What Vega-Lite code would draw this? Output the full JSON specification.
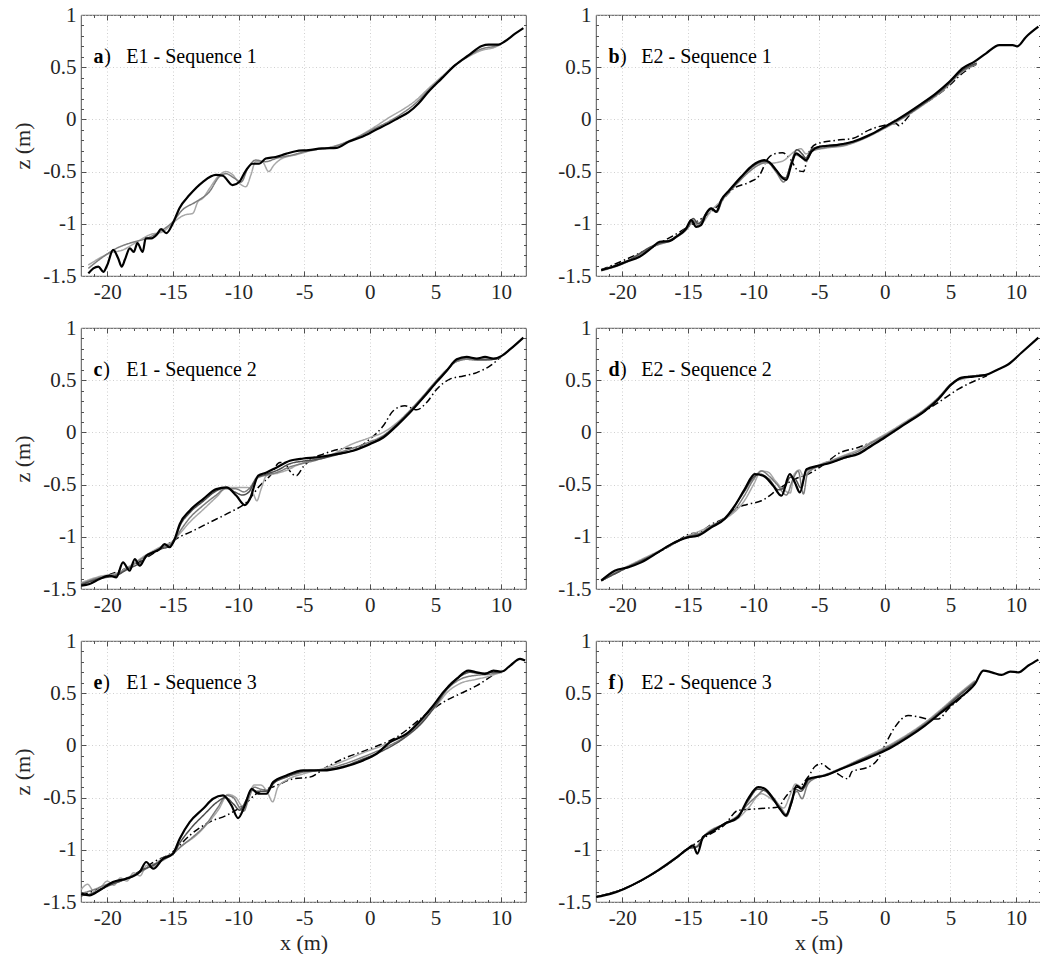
{
"$schema":"https://vega.github.io/schema/vega-lite/v6.json",
"background":"white",
"padding":{"left":11,"top":3,"right":0,"bottom":0},
"config":{
 "view":{"stroke":"#262626","strokeWidth":0.8},
 "font":"Liberation Serif",
 "style":{"guide-label":{"font":"Liberation Serif"},"guide-title":{"font":"Liberation Serif"}},
 "line":{"interpolate":"monotone"},
 "axis":{"labelFont":"Liberation Serif","labelFontSize":21,"labelColor":"#262626","labelPadding":5,"titleFont":"Liberation Serif","titleFontSize":22,"titleFontWeight":"normal","titleColor":"#262626","gridColor":"#c4c4c4","gridDash":[1,2.5],"gridWidth":0.8,"tickColor":"#262626","tickWidth":0.8,"labelFlush":false,"labelOverlap":false,"domain":false}
},
"datasets":{"prof":[
{"p":"a","s":"l","x":-21.44,"z":-1.395},{"p":"a","s":"l","x":-20.8,"z":-1.345},{"p":"a","s":"l","x":-19.8,"z":-1.28},{"p":"a","s":"l","x":-18.8,"z":-1.25},{"p":"a","s":"l","x":-17.9,"z":-1.185},{"p":"a","s":"l","x":-17.3,"z":-1.14},{"p":"a","s":"l","x":-16.76,"z":-1.105},{"p":"a","s":"l","x":-15.75,"z":-1.075},{"p":"a","s":"l","x":-14.9,"z":-0.98},{"p":"a","s":"l","x":-14.1,"z":-0.915},{"p":"a","s":"l","x":-13.48,"z":-0.9},{"p":"a","s":"l","x":-13.1,"z":-0.79},{"p":"a","s":"l","x":-12.73,"z":-0.756},{"p":"a","s":"l","x":-12.2,"z":-0.66},{"p":"a","s":"l","x":-11.47,"z":-0.535},{"p":"a","s":"l","x":-10.96,"z":-0.5},{"p":"a","s":"l","x":-10.45,"z":-0.53},{"p":"a","s":"l","x":-9.95,"z":-0.61},{"p":"a","s":"l","x":-9.44,"z":-0.645},{"p":"a","s":"l","x":-9.06,"z":-0.533},{"p":"a","s":"l","x":-8.7,"z":-0.405},{"p":"a","s":"l","x":-8.2,"z":-0.405},{"p":"a","s":"l","x":-7.7,"z":-0.5},{"p":"a","s":"l","x":-7.3,"z":-0.437},{"p":"a","s":"l","x":-6.66,"z":-0.373},{"p":"a","s":"l","x":-5.65,"z":-0.34},{"p":"a","s":"l","x":-4.5,"z":-0.3},{"p":"a","s":"l","x":-3,"z":-0.265},{"p":"a","s":"l","x":-1.5,"z":-0.2},{"p":"a","s":"l","x":0.4,"z":-0.07},{"p":"a","s":"l","x":1.45,"z":0.016},{"p":"a","s":"l","x":2.44,"z":0.089},{"p":"a","s":"l","x":3.45,"z":0.176},{"p":"a","s":"l","x":4.47,"z":0.296},{"p":"a","s":"l","x":5.48,"z":0.41},{"p":"a","s":"l","x":6.5,"z":0.52},{"p":"a","s":"l","x":7.5,"z":0.6},{"p":"a","s":"l","x":8.5,"z":0.66},{"p":"a","s":"l","x":9.5,"z":0.69},{"p":"a","s":"l","x":10,"z":0.72},
{"p":"a","s":"m","x":-21.44,"z":-1.427},{"p":"a","s":"m","x":-20.3,"z":-1.315},{"p":"a","s":"m","x":-19.3,"z":-1.235},{"p":"a","s":"m","x":-18.28,"z":-1.185},{"p":"a","s":"m","x":-17,"z":-1.14},{"p":"a","s":"m","x":-16,"z":-1.075},{"p":"a","s":"m","x":-15,"z":-0.98},{"p":"a","s":"m","x":-14.3,"z":-0.87},{"p":"a","s":"m","x":-13.25,"z":-0.79},{"p":"a","s":"m","x":-12.2,"z":-0.69},{"p":"a","s":"m","x":-11.47,"z":-0.55},{"p":"a","s":"m","x":-10.96,"z":-0.52},{"p":"a","s":"m","x":-10.3,"z":-0.565},{"p":"a","s":"m","x":-9.8,"z":-0.6},{"p":"a","s":"m","x":-9.3,"z":-0.47},{"p":"a","s":"m","x":-8.7,"z":-0.39},{"p":"a","s":"m","x":-7.93,"z":-0.405},{"p":"a","s":"m","x":-7.17,"z":-0.375},{"p":"a","s":"m","x":-5.9,"z":-0.34},{"p":"a","s":"m","x":-4.5,"z":-0.295},{"p":"a","s":"m","x":-3,"z":-0.27},{"p":"a","s":"m","x":-1.5,"z":-0.205},{"p":"a","s":"m","x":0.4,"z":-0.085},{"p":"a","s":"m","x":1.45,"z":-0.02},{"p":"a","s":"m","x":2.44,"z":0.055},{"p":"a","s":"m","x":3.45,"z":0.15},{"p":"a","s":"m","x":4.47,"z":0.28},{"p":"a","s":"m","x":5.48,"z":0.4},{"p":"a","s":"m","x":6.5,"z":0.515},{"p":"a","s":"m","x":7.5,"z":0.605},{"p":"a","s":"m","x":8.5,"z":0.675},{"p":"a","s":"m","x":9.5,"z":0.7},{"p":"a","s":"m","x":10,"z":0.72},
{"p":"a","s":"k","x":-21.44,"z":-1.475},{"p":"a","s":"k","x":-21.06,"z":-1.427},{"p":"a","s":"k","x":-20.68,"z":-1.41},{"p":"a","s":"k","x":-20.3,"z":-1.46},{"p":"a","s":"k","x":-20,"z":-1.395},{"p":"a","s":"k","x":-19.55,"z":-1.25},{"p":"a","s":"k","x":-19.17,"z":-1.33},{"p":"a","s":"k","x":-18.9,"z":-1.41},{"p":"a","s":"k","x":-18.66,"z":-1.345},{"p":"a","s":"k","x":-18.28,"z":-1.235},{"p":"a","s":"k","x":-17.98,"z":-1.27},{"p":"a","s":"k","x":-17.7,"z":-1.185},{"p":"a","s":"k","x":-17.3,"z":-1.27},{"p":"a","s":"k","x":-17.07,"z":-1.14},{"p":"a","s":"k","x":-16.64,"z":-1.14},{"p":"a","s":"k","x":-16.2,"z":-1.1},{"p":"a","s":"k","x":-15.9,"z":-1.05},{"p":"a","s":"k","x":-15.5,"z":-1.09},{"p":"a","s":"k","x":-15,"z":-0.995},{"p":"a","s":"k","x":-14.5,"z":-0.85},{"p":"a","s":"k","x":-13.74,"z":-0.725},{"p":"a","s":"k","x":-12.73,"z":-0.6},{"p":"a","s":"k","x":-11.72,"z":-0.532},{"p":"a","s":"k","x":-11.2,"z":-0.54},{"p":"a","s":"k","x":-10.45,"z":-0.63},{"p":"a","s":"k","x":-9.95,"z":-0.6},{"p":"a","s":"k","x":-9.44,"z":-0.49},{"p":"a","s":"k","x":-8.94,"z":-0.425},{"p":"a","s":"k","x":-8.43,"z":-0.425},{"p":"a","s":"k","x":-7.93,"z":-0.375},{"p":"a","s":"k","x":-7.17,"z":-0.36},{"p":"a","s":"k","x":-6.4,"z":-0.33},{"p":"a","s":"k","x":-5.65,"z":-0.305},{"p":"a","s":"k","x":-4.67,"z":-0.294},{"p":"a","s":"k","x":-3.65,"z":-0.278},{"p":"a","s":"k","x":-2.51,"z":-0.272},{"p":"a","s":"k","x":-1.62,"z":-0.214},{"p":"a","s":"k","x":-0.58,"z":-0.166},{"p":"a","s":"k","x":0.43,"z":-0.102},{"p":"a","s":"k","x":1.45,"z":-0.038},{"p":"a","s":"k","x":2.21,"z":0.016},{"p":"a","s":"k","x":2.94,"z":0.067},{"p":"a","s":"k","x":3.71,"z":0.153},{"p":"a","s":"k","x":4.47,"z":0.265},{"p":"a","s":"k","x":5.48,"z":0.393},{"p":"a","s":"k","x":6.5,"z":0.52},{"p":"a","s":"k","x":7.51,"z":0.613},{"p":"a","s":"k","x":8.53,"z":0.703},{"p":"a","s":"k","x":9.04,"z":0.716},{"p":"a","s":"k","x":9.8,"z":0.716},{"p":"a","s":"k","x":10.3,"z":0.748},{"p":"a","s":"k","x":11.07,"z":0.821},{"p":"a","s":"k","x":11.7,"z":0.875},

{"p":"b","s":"d","x":-21.6,"z":-1.44},{"p":"b","s":"d","x":-18,"z":-1.24},{"p":"b","s":"d","x":-15,"z":-1.03},{"p":"b","s":"d","x":-13,"z":-0.86},{"p":"b","s":"d","x":-11.5,"z":-0.66},{"p":"b","s":"d","x":-10.3,"z":-0.6},{"p":"b","s":"d","x":-9.54,"z":-0.534},{"p":"b","s":"d","x":-8.9,"z":-0.374},{"p":"b","s":"d","x":-8.27,"z":-0.326},{"p":"b","s":"d","x":-7.8,"z":-0.32},{"p":"b","s":"d","x":-7.2,"z":-0.38},{"p":"b","s":"d","x":-6.6,"z":-0.49},{"p":"b","s":"d","x":-6.2,"z":-0.5},{"p":"b","s":"d","x":-5.8,"z":-0.32},{"p":"b","s":"d","x":-5.2,"z":-0.235},{"p":"b","s":"d","x":-3.7,"z":-0.2},{"p":"b","s":"d","x":-2.4,"z":-0.18},{"p":"b","s":"d","x":-1.17,"z":-0.1},{"p":"b","s":"d","x":0,"z":-0.055},{"p":"b","s":"d","x":0.84,"z":-0.04},{"p":"b","s":"d","x":1.1,"z":-0.06},{"p":"b","s":"d","x":1.4,"z":-0.03},{"p":"b","s":"d","x":2.1,"z":0.073},{"p":"b","s":"d","x":3.5,"z":0.19},{"p":"b","s":"d","x":4.6,"z":0.29},{"p":"b","s":"d","x":6.1,"z":0.46},{"p":"b","s":"d","x":7,"z":0.53},
{"p":"b","s":"l","x":-21.6,"z":-1.44},{"p":"b","s":"l","x":-19.7,"z":-1.36},{"p":"b","s":"l","x":-17.66,"z":-1.215},{"p":"b","s":"l","x":-16,"z":-1.135},{"p":"b","s":"l","x":-15,"z":-1.03},{"p":"b","s":"l","x":-14.5,"z":-0.98},{"p":"b","s":"l","x":-14,"z":-0.99},{"p":"b","s":"l","x":-13.2,"z":-0.87},{"p":"b","s":"l","x":-12.4,"z":-0.77},{"p":"b","s":"l","x":-11.5,"z":-0.64},{"p":"b","s":"l","x":-10.5,"z":-0.5},{"p":"b","s":"l","x":-9.5,"z":-0.42},{"p":"b","s":"l","x":-8.8,"z":-0.42},{"p":"b","s":"l","x":-7.8,"z":-0.4},{"p":"b","s":"l","x":-6.9,"z":-0.31},{"p":"b","s":"l","x":-6.4,"z":-0.28},{"p":"b","s":"l","x":-6,"z":-0.33},{"p":"b","s":"l","x":-5.5,"z":-0.3},{"p":"b","s":"l","x":-4.5,"z":-0.275},{"p":"b","s":"l","x":-3,"z":-0.25},{"p":"b","s":"l","x":-1.5,"z":-0.18},{"p":"b","s":"l","x":0,"z":-0.085},{"p":"b","s":"l","x":1.5,"z":0.02},{"p":"b","s":"l","x":3,"z":0.145},{"p":"b","s":"l","x":4.5,"z":0.285},{"p":"b","s":"l","x":5.9,"z":0.455},{"p":"b","s":"l","x":7,"z":0.53},
{"p":"b","s":"m","x":-21.6,"z":-1.45},{"p":"b","s":"m","x":-19.7,"z":-1.37},{"p":"b","s":"m","x":-17.66,"z":-1.22},{"p":"b","s":"m","x":-16,"z":-1.14},{"p":"b","s":"m","x":-15,"z":-1.04},{"p":"b","s":"m","x":-14.6,"z":-0.97},{"p":"b","s":"m","x":-14.2,"z":-1.02},{"p":"b","s":"m","x":-13.6,"z":-0.91},{"p":"b","s":"m","x":-13.2,"z":-0.85},{"p":"b","s":"m","x":-12.8,"z":-0.89},{"p":"b","s":"m","x":-12.4,"z":-0.78},{"p":"b","s":"m","x":-11.5,"z":-0.65},{"p":"b","s":"m","x":-10.5,"z":-0.52},{"p":"b","s":"m","x":-9.5,"z":-0.43},{"p":"b","s":"m","x":-9,"z":-0.41},{"p":"b","s":"m","x":-8.3,"z":-0.5},{"p":"b","s":"m","x":-7.7,"z":-0.6},{"p":"b","s":"m","x":-7.2,"z":-0.45},{"p":"b","s":"m","x":-6.8,"z":-0.34},{"p":"b","s":"m","x":-6.3,"z":-0.37},{"p":"b","s":"m","x":-6,"z":-0.4},{"p":"b","s":"m","x":-5.5,"z":-0.3},{"p":"b","s":"m","x":-4.5,"z":-0.27},{"p":"b","s":"m","x":-3,"z":-0.245},{"p":"b","s":"m","x":-1.5,"z":-0.175},{"p":"b","s":"m","x":0,"z":-0.08},{"p":"b","s":"m","x":1.5,"z":0.025},{"p":"b","s":"m","x":3,"z":0.15},{"p":"b","s":"m","x":4.5,"z":0.29},{"p":"b","s":"m","x":5.9,"z":0.46},{"p":"b","s":"m","x":7,"z":0.53},
{"p":"b","s":"g","x":-21.6,"z":-1.44},{"p":"b","s":"g","x":-19.7,"z":-1.36},{"p":"b","s":"g","x":-17.66,"z":-1.21},{"p":"b","s":"g","x":-16,"z":-1.13},{"p":"b","s":"g","x":-15,"z":-1.02},{"p":"b","s":"g","x":-14.6,"z":-0.95},{"p":"b","s":"g","x":-14.2,"z":-1.0},{"p":"b","s":"g","x":-13.6,"z":-0.9},{"p":"b","s":"g","x":-13.2,"z":-0.86},{"p":"b","s":"g","x":-12.8,"z":-0.88},{"p":"b","s":"g","x":-12.4,"z":-0.77},{"p":"b","s":"g","x":-11.5,"z":-0.64},{"p":"b","s":"g","x":-10.5,"z":-0.5},{"p":"b","s":"g","x":-9.5,"z":-0.41},{"p":"b","s":"g","x":-9,"z":-0.4},{"p":"b","s":"g","x":-8.4,"z":-0.47},{"p":"b","s":"g","x":-7.8,"z":-0.55},{"p":"b","s":"g","x":-7.55,"z":-0.56},{"p":"b","s":"g","x":-7.1,"z":-0.4},{"p":"b","s":"g","x":-6.7,"z":-0.29},{"p":"b","s":"g","x":-6.3,"z":-0.33},{"p":"b","s":"g","x":-6,"z":-0.37},{"p":"b","s":"g","x":-5.6,"z":-0.29},{"p":"b","s":"g","x":-5,"z":-0.26},{"p":"b","s":"g","x":-3.5,"z":-0.24},{"p":"b","s":"g","x":-2,"z":-0.2},{"p":"b","s":"g","x":0,"z":-0.075},{"p":"b","s":"g","x":1.5,"z":0.03},{"p":"b","s":"g","x":3,"z":0.155},{"p":"b","s":"g","x":4.5,"z":0.3},{"p":"b","s":"g","x":5.9,"z":0.47},{"p":"b","s":"g","x":7,"z":0.54},
{"p":"b","s":"k","x":-21.6,"z":-1.444},{"p":"b","s":"k","x":-20.7,"z":-1.412},{"p":"b","s":"k","x":-19.7,"z":-1.364},{"p":"b","s":"k","x":-18.68,"z":-1.316},{"p":"b","s":"k","x":-17.66,"z":-1.22},{"p":"b","s":"k","x":-17.16,"z":-1.172},{"p":"b","s":"k","x":-16.4,"z":-1.166},{"p":"b","s":"k","x":-15.9,"z":-1.125},{"p":"b","s":"k","x":-15.13,"z":-1.045},{"p":"b","s":"k","x":-14.75,"z":-0.965},{"p":"b","s":"k","x":-14.37,"z":-1.03},{"p":"b","s":"k","x":-14,"z":-1.013},{"p":"b","s":"k","x":-13.6,"z":-0.9},{"p":"b","s":"k","x":-13.22,"z":-0.853},{"p":"b","s":"k","x":-12.84,"z":-0.885},{"p":"b","s":"k","x":-12.46,"z":-0.773},{"p":"b","s":"k","x":-11.83,"z":-0.677},{"p":"b","s":"k","x":-10.94,"z":-0.55},{"p":"b","s":"k","x":-10.05,"z":-0.438},{"p":"b","s":"k","x":-9.16,"z":-0.39},{"p":"b","s":"k","x":-8.78,"z":-0.412},{"p":"b","s":"k","x":-8.27,"z":-0.486},{"p":"b","s":"k","x":-7.77,"z":-0.565},{"p":"b","s":"k","x":-7.5,"z":-0.58},{"p":"b","s":"k","x":-7.13,"z":-0.438},{"p":"b","s":"k","x":-6.75,"z":-0.326},{"p":"b","s":"k","x":-6.37,"z":-0.358},{"p":"b","s":"k","x":-5.99,"z":-0.39},{"p":"b","s":"k","x":-5.6,"z":-0.31},{"p":"b","s":"k","x":-4.97,"z":-0.262},{"p":"b","s":"k","x":-3.7,"z":-0.246},{"p":"b","s":"k","x":-2.44,"z":-0.214},{"p":"b","s":"k","x":-1.17,"z":-0.15},{"p":"b","s":"k","x":0,"z":-0.07},{"p":"b","s":"k","x":1.1,"z":0.01},{"p":"b","s":"k","x":2.64,"z":0.137},{"p":"b","s":"k","x":3.9,"z":0.25},{"p":"b","s":"k","x":4.92,"z":0.36},{"p":"b","s":"k","x":5.94,"z":0.49},{"p":"b","s":"k","x":6.83,"z":0.553},{"p":"b","s":"k","x":7.72,"z":0.633},{"p":"b","s":"k","x":8.73,"z":0.712},{"p":"b","s":"k","x":9.75,"z":0.712},{"p":"b","s":"k","x":10.1,"z":0.7},{"p":"b","s":"k","x":10.76,"z":0.79},{"p":"b","s":"k","x":11.7,"z":0.888},

{"p":"c","s":"d","x":-21.98,"z":-1.45},{"p":"c","s":"d","x":-20,"z":-1.37},{"p":"c","s":"d","x":-18,"z":-1.27},{"p":"c","s":"d","x":-16,"z":-1.12},{"p":"c","s":"d","x":-15,"z":-1.04},{"p":"c","s":"d","x":-14.48,"z":-1.0},{"p":"c","s":"d","x":-13.72,"z":-0.958},{"p":"c","s":"d","x":-12.2,"z":-0.862},{"p":"c","s":"d","x":-10.67,"z":-0.766},{"p":"c","s":"d","x":-9.4,"z":-0.67},{"p":"c","s":"d","x":-8.38,"z":-0.511},{"p":"c","s":"d","x":-7.6,"z":-0.415},{"p":"c","s":"d","x":-6.85,"z":-0.288},{"p":"c","s":"d","x":-6.47,"z":-0.288},{"p":"c","s":"d","x":-6.2,"z":-0.35},{"p":"c","s":"d","x":-5.6,"z":-0.415},{"p":"c","s":"d","x":-5.07,"z":-0.33},{"p":"c","s":"d","x":-4.5,"z":-0.26},{"p":"c","s":"d","x":-3.55,"z":-0.208},{"p":"c","s":"d","x":-2.28,"z":-0.16},{"p":"c","s":"d","x":-1,"z":-0.144},{"p":"c","s":"d","x":0,"z":-0.065},{"p":"c","s":"d","x":1.03,"z":0.063},{"p":"c","s":"d","x":1.79,"z":0.207},{"p":"c","s":"d","x":2.68,"z":0.255},{"p":"c","s":"d","x":3.57,"z":0.216},{"p":"c","s":"d","x":4.33,"z":0.286},{"p":"c","s":"d","x":5.1,"z":0.414},{"p":"c","s":"d","x":6.1,"z":0.51},{"p":"c","s":"d","x":7.13,"z":0.54},{"p":"c","s":"d","x":8.15,"z":0.573},{"p":"c","s":"d","x":9.16,"z":0.637},{"p":"c","s":"d","x":9.93,"z":0.717},
{"p":"c","s":"l","x":-21.98,"z":-1.44},{"p":"c","s":"l","x":-20.58,"z":-1.38},{"p":"c","s":"l","x":-19.31,"z":-1.35},{"p":"c","s":"l","x":-18.3,"z":-1.28},{"p":"c","s":"l","x":-17,"z":-1.17},{"p":"c","s":"l","x":-16,"z":-1.1},{"p":"c","s":"l","x":-15,"z":-1.04},{"p":"c","s":"l","x":-14.48,"z":-0.97},{"p":"c","s":"l","x":-13.72,"z":-0.86},{"p":"c","s":"l","x":-12.7,"z":-0.74},{"p":"c","s":"l","x":-11.69,"z":-0.62},{"p":"c","s":"l","x":-10.9,"z":-0.53},{"p":"c","s":"l","x":-10.2,"z":-0.527},{"p":"c","s":"l","x":-9.3,"z":-0.527},{"p":"c","s":"l","x":-8.9,"z":-0.58},{"p":"c","s":"l","x":-8.6,"z":-0.655},{"p":"c","s":"l","x":-8.3,"z":-0.55},{"p":"c","s":"l","x":-7.87,"z":-0.415},{"p":"c","s":"l","x":-7,"z":-0.39},{"p":"c","s":"l","x":-6.09,"z":-0.35},{"p":"c","s":"l","x":-5.5,"z":-0.31},{"p":"c","s":"l","x":-4.5,"z":-0.27},{"p":"c","s":"l","x":-3,"z":-0.22},{"p":"c","s":"l","x":-1.5,"z":-0.12},{"p":"c","s":"l","x":0,"z":-0.05},{"p":"c","s":"l","x":1.03,"z":0.0},{"p":"c","s":"l","x":2.04,"z":0.09},{"p":"c","s":"l","x":3.06,"z":0.21},{"p":"c","s":"l","x":4.08,"z":0.35},{"p":"c","s":"l","x":5.1,"z":0.5},{"p":"c","s":"l","x":5.86,"z":0.6},{"p":"c","s":"l","x":6.62,"z":0.68},{"p":"c","s":"l","x":7.38,"z":0.7},{"p":"c","s":"l","x":8.5,"z":0.69},{"p":"c","s":"l","x":9.4,"z":0.7},{"p":"c","s":"l","x":10,"z":0.72},
{"p":"c","s":"m","x":-21.98,"z":-1.45},{"p":"c","s":"m","x":-20.58,"z":-1.39},{"p":"c","s":"m","x":-19.31,"z":-1.36},{"p":"c","s":"m","x":-18.3,"z":-1.29},{"p":"c","s":"m","x":-17,"z":-1.18},{"p":"c","s":"m","x":-16,"z":-1.11},{"p":"c","s":"m","x":-15,"z":-1.05},{"p":"c","s":"m","x":-14.48,"z":-0.95},{"p":"c","s":"m","x":-13.72,"z":-0.82},{"p":"c","s":"m","x":-12.7,"z":-0.7},{"p":"c","s":"m","x":-11.69,"z":-0.6},{"p":"c","s":"m","x":-11,"z":-0.54},{"p":"c","s":"m","x":-10.2,"z":-0.54},{"p":"c","s":"m","x":-9.6,"z":-0.57},{"p":"c","s":"m","x":-9.2,"z":-0.54},{"p":"c","s":"m","x":-8.6,"z":-0.44},{"p":"c","s":"m","x":-7.9,"z":-0.41},{"p":"c","s":"m","x":-7,"z":-0.38},{"p":"c","s":"m","x":-6.09,"z":-0.33},{"p":"c","s":"m","x":-5.2,"z":-0.3},{"p":"c","s":"m","x":-4.06,"z":-0.265},{"p":"c","s":"m","x":-2.53,"z":-0.2},{"p":"c","s":"m","x":-1.26,"z":-0.15},{"p":"c","s":"m","x":0,"z":-0.09},{"p":"c","s":"m","x":1.03,"z":-0.03},{"p":"c","s":"m","x":2.04,"z":0.08},{"p":"c","s":"m","x":3.06,"z":0.21},{"p":"c","s":"m","x":4.08,"z":0.35},{"p":"c","s":"m","x":5.1,"z":0.5},{"p":"c","s":"m","x":5.86,"z":0.6},{"p":"c","s":"m","x":6.62,"z":0.68},{"p":"c","s":"m","x":7.38,"z":0.7},{"p":"c","s":"m","x":8.5,"z":0.69},{"p":"c","s":"m","x":9.4,"z":0.7},{"p":"c","s":"m","x":10,"z":0.72},
{"p":"c","s":"g","x":-21.98,"z":-1.46},{"p":"c","s":"g","x":-20.58,"z":-1.4},{"p":"c","s":"g","x":-19.31,"z":-1.37},{"p":"c","s":"g","x":-18.3,"z":-1.3},{"p":"c","s":"g","x":-17.5,"z":-1.25},{"p":"c","s":"g","x":-17,"z":-1.19},{"p":"c","s":"g","x":-16,"z":-1.12},{"p":"c","s":"g","x":-15.25,"z":-1.09},{"p":"c","s":"g","x":-14.86,"z":-1.03},{"p":"c","s":"g","x":-14.48,"z":-0.9},{"p":"c","s":"g","x":-13.72,"z":-0.77},{"p":"c","s":"g","x":-12.7,"z":-0.66},{"p":"c","s":"g","x":-11.69,"z":-0.56},{"p":"c","s":"g","x":-10.92,"z":-0.53},{"p":"c","s":"g","x":-10.3,"z":-0.57},{"p":"c","s":"g","x":-9.7,"z":-0.6},{"p":"c","s":"g","x":-9.2,"z":-0.57},{"p":"c","s":"g","x":-8.6,"z":-0.43},{"p":"c","s":"g","x":-7.9,"z":-0.4},{"p":"c","s":"g","x":-7,"z":-0.36},{"p":"c","s":"g","x":-6.09,"z":-0.3},{"p":"c","s":"g","x":-5.07,"z":-0.275},{"p":"c","s":"g","x":-4.06,"z":-0.26},{"p":"c","s":"g","x":-2.53,"z":-0.215},{"p":"c","s":"g","x":-1.26,"z":-0.17},{"p":"c","s":"g","x":0,"z":-0.105},{"p":"c","s":"g","x":1.03,"z":-0.04},{"p":"c","s":"g","x":2.04,"z":0.07},{"p":"c","s":"g","x":3.06,"z":0.2},{"p":"c","s":"g","x":4.08,"z":0.34},{"p":"c","s":"g","x":5.1,"z":0.49},{"p":"c","s":"g","x":5.86,"z":0.59},{"p":"c","s":"g","x":6.62,"z":0.69},{"p":"c","s":"g","x":7.38,"z":0.715},{"p":"c","s":"g","x":8.5,"z":0.7},{"p":"c","s":"g","x":9.4,"z":0.7},{"p":"c","s":"g","x":10,"z":0.72},
{"p":"c","s":"k","x":-21.98,"z":-1.468},{"p":"c","s":"k","x":-21.35,"z":-1.452},{"p":"c","s":"k","x":-20.58,"z":-1.404},{"p":"c","s":"k","x":-19.82,"z":-1.372},{"p":"c","s":"k","x":-19.31,"z":-1.388},{"p":"c","s":"k","x":-18.8,"z":-1.245},{"p":"c","s":"k","x":-18.3,"z":-1.325},{"p":"c","s":"k","x":-17.9,"z":-1.213},{"p":"c","s":"k","x":-17.53,"z":-1.277},{"p":"c","s":"k","x":-17.03,"z":-1.181},{"p":"c","s":"k","x":-16.5,"z":-1.149},{"p":"c","s":"k","x":-16,"z":-1.117},{"p":"c","s":"k","x":-15.63,"z":-1.07},{"p":"c","s":"k","x":-15.25,"z":-1.1},{"p":"c","s":"k","x":-14.86,"z":-1.02},{"p":"c","s":"k","x":-14.48,"z":-0.878},{"p":"c","s":"k","x":-13.72,"z":-0.75},{"p":"c","s":"k","x":-12.7,"z":-0.64},{"p":"c","s":"k","x":-11.69,"z":-0.543},{"p":"c","s":"k","x":-10.92,"z":-0.527},{"p":"c","s":"k","x":-10.16,"z":-0.607},{"p":"c","s":"k","x":-9.52,"z":-0.696},{"p":"c","s":"k","x":-9.14,"z":-0.639},{"p":"c","s":"k","x":-8.5,"z":-0.415},{"p":"c","s":"k","x":-7.87,"z":-0.384},{"p":"c","s":"k","x":-7.1,"z":-0.336},{"p":"c","s":"k","x":-6.09,"z":-0.272},{"p":"c","s":"k","x":-5.07,"z":-0.25},{"p":"c","s":"k","x":-4.06,"z":-0.24},{"p":"c","s":"k","x":-2.53,"z":-0.208},{"p":"c","s":"k","x":-1.26,"z":-0.176},{"p":"c","s":"k","x":0,"z":-0.113},{"p":"c","s":"k","x":1.03,"z":-0.049},{"p":"c","s":"k","x":2.04,"z":0.063},{"p":"c","s":"k","x":3.06,"z":0.19},{"p":"c","s":"k","x":4.08,"z":0.334},{"p":"c","s":"k","x":5.1,"z":0.484},{"p":"c","s":"k","x":5.86,"z":0.59},{"p":"c","s":"k","x":6.62,"z":0.7},{"p":"c","s":"k","x":7.38,"z":0.723},{"p":"c","s":"k","x":8.15,"z":0.707},{"p":"c","s":"k","x":8.78,"z":0.723},{"p":"c","s":"k","x":9.42,"z":0.707},{"p":"c","s":"k","x":10.05,"z":0.733},{"p":"c","s":"k","x":10.7,"z":0.797},{"p":"c","s":"k","x":11.7,"z":0.908},

{"p":"d","s":"d","x":-21.6,"z":-1.42},{"p":"d","s":"d","x":-19.57,"z":-1.29},{"p":"d","s":"d","x":-17.28,"z":-1.15},{"p":"d","s":"d","x":-16,"z":-1.06},{"p":"d","s":"d","x":-15,"z":-0.98},{"p":"d","s":"d","x":-14,"z":-0.95},{"p":"d","s":"d","x":-13.2,"z":-0.88},{"p":"d","s":"d","x":-12.2,"z":-0.82},{"p":"d","s":"d","x":-11.43,"z":-0.734},{"p":"d","s":"d","x":-10.5,"z":-0.69},{"p":"d","s":"d","x":-9.4,"z":-0.655},{"p":"d","s":"d","x":-8.1,"z":-0.543},{"p":"d","s":"d","x":-6.85,"z":-0.447},{"p":"d","s":"d","x":-5.83,"z":-0.4},{"p":"d","s":"d","x":-4.57,"z":-0.3},{"p":"d","s":"d","x":-3.5,"z":-0.2},{"p":"d","s":"d","x":-2.02,"z":-0.144},{"p":"d","s":"d","x":0,"z":-0.033},{"p":"d","s":"d","x":2.04,"z":0.127},{"p":"d","s":"d","x":4.08,"z":0.286},{"p":"d","s":"d","x":5.6,"z":0.414},{"p":"d","s":"d","x":7.77,"z":0.541},
{"p":"d","s":"l","x":-21.6,"z":-1.41},{"p":"d","s":"l","x":-19.57,"z":-1.28},{"p":"d","s":"l","x":-17.28,"z":-1.14},{"p":"d","s":"l","x":-16,"z":-1.06},{"p":"d","s":"l","x":-15,"z":-0.99},{"p":"d","s":"l","x":-14,"z":-0.94},{"p":"d","s":"l","x":-13.2,"z":-0.89},{"p":"d","s":"l","x":-12.2,"z":-0.83},{"p":"d","s":"l","x":-11.43,"z":-0.76},{"p":"d","s":"l","x":-10.67,"z":-0.65},{"p":"d","s":"l","x":-10,"z":-0.5},{"p":"d","s":"l","x":-9.4,"z":-0.37},{"p":"d","s":"l","x":-8.9,"z":-0.38},{"p":"d","s":"l","x":-8.3,"z":-0.47},{"p":"d","s":"l","x":-7.7,"z":-0.55},{"p":"d","s":"l","x":-7.2,"z":-0.58},{"p":"d","s":"l","x":-6.9,"z":-0.4},{"p":"d","s":"l","x":-6.5,"z":-0.36},{"p":"d","s":"l","x":-6.2,"z":-0.42},{"p":"d","s":"l","x":-5.8,"z":-0.37},{"p":"d","s":"l","x":-5,"z":-0.31},{"p":"d","s":"l","x":-4,"z":-0.265},{"p":"d","s":"l","x":-3,"z":-0.215},{"p":"d","s":"l","x":-2,"z":-0.165},{"p":"d","s":"l","x":-1,"z":-0.09},{"p":"d","s":"l","x":0,"z":-0.02},{"p":"d","s":"l","x":1.54,"z":0.1},{"p":"d","s":"l","x":3.06,"z":0.225},{"p":"d","s":"l","x":4.08,"z":0.335},{"p":"d","s":"l","x":5.1,"z":0.47},{"p":"d","s":"l","x":6.2,"z":0.52},{"p":"d","s":"l","x":7.7,"z":0.55},
{"p":"d","s":"m","x":-21.6,"z":-1.42},{"p":"d","s":"m","x":-19.57,"z":-1.29},{"p":"d","s":"m","x":-17.28,"z":-1.145},{"p":"d","s":"m","x":-16,"z":-1.06},{"p":"d","s":"m","x":-15,"z":-1.0},{"p":"d","s":"m","x":-14,"z":-0.96},{"p":"d","s":"m","x":-13.2,"z":-0.9},{"p":"d","s":"m","x":-12.2,"z":-0.82},{"p":"d","s":"m","x":-11.43,"z":-0.74},{"p":"d","s":"m","x":-10.67,"z":-0.6},{"p":"d","s":"m","x":-10,"z":-0.45},{"p":"d","s":"m","x":-9.4,"z":-0.37},{"p":"d","s":"m","x":-8.8,"z":-0.42},{"p":"d","s":"m","x":-8.2,"z":-0.5},{"p":"d","s":"m","x":-7.5,"z":-0.6},{"p":"d","s":"m","x":-7,"z":-0.45},{"p":"d","s":"m","x":-6.6,"z":-0.37},{"p":"d","s":"m","x":-6.2,"z":-0.59},{"p":"d","s":"m","x":-5.9,"z":-0.4},{"p":"d","s":"m","x":-5,"z":-0.32},{"p":"d","s":"m","x":-4,"z":-0.27},{"p":"d","s":"m","x":-3,"z":-0.225},{"p":"d","s":"m","x":-2,"z":-0.18},{"p":"d","s":"m","x":-1,"z":-0.1},{"p":"d","s":"m","x":0,"z":-0.03},{"p":"d","s":"m","x":1.54,"z":0.09},{"p":"d","s":"m","x":3.06,"z":0.22},{"p":"d","s":"m","x":4.08,"z":0.33},{"p":"d","s":"m","x":5.1,"z":0.47},{"p":"d","s":"m","x":6.2,"z":0.53},{"p":"d","s":"m","x":7.7,"z":0.55},
{"p":"d","s":"g","x":-21.6,"z":-1.42},{"p":"d","s":"g","x":-19.57,"z":-1.29},{"p":"d","s":"g","x":-17.28,"z":-1.15},{"p":"d","s":"g","x":-16.26,"z":-1.07},{"p":"d","s":"g","x":-15,"z":-1.0},{"p":"d","s":"g","x":-14,"z":-0.97},{"p":"d","s":"g","x":-13.2,"z":-0.9},{"p":"d","s":"g","x":-12.2,"z":-0.82},{"p":"d","s":"g","x":-11.43,"z":-0.7},{"p":"d","s":"g","x":-10.67,"z":-0.56},{"p":"d","s":"g","x":-10,"z":-0.43},{"p":"d","s":"g","x":-9.5,"z":-0.4},{"p":"d","s":"g","x":-8.8,"z":-0.45},{"p":"d","s":"g","x":-8.1,"z":-0.55},{"p":"d","s":"g","x":-7.6,"z":-0.52},{"p":"d","s":"g","x":-7.2,"z":-0.43},{"p":"d","s":"g","x":-6.8,"z":-0.45},{"p":"d","s":"g","x":-6.4,"z":-0.53},{"p":"d","s":"g","x":-6,"z":-0.37},{"p":"d","s":"g","x":-5.07,"z":-0.325},{"p":"d","s":"g","x":-4.06,"z":-0.285},{"p":"d","s":"g","x":-3.04,"z":-0.245},{"p":"d","s":"g","x":-2.02,"z":-0.2},{"p":"d","s":"g","x":-1,"z":-0.12},{"p":"d","s":"g","x":0,"z":-0.04},{"p":"d","s":"g","x":1.54,"z":0.085},{"p":"d","s":"g","x":3.06,"z":0.215},{"p":"d","s":"g","x":4.08,"z":0.325},{"p":"d","s":"g","x":5.1,"z":0.465},{"p":"d","s":"g","x":6.2,"z":0.53},{"p":"d","s":"g","x":7.7,"z":0.55},
{"p":"d","s":"k","x":-21.6,"z":-1.42},{"p":"d","s":"k","x":-20.58,"z":-1.325},{"p":"d","s":"k","x":-19.57,"z":-1.293},{"p":"d","s":"k","x":-18.55,"z":-1.245},{"p":"d","s":"k","x":-17.28,"z":-1.149},{"p":"d","s":"k","x":-16.26,"z":-1.07},{"p":"d","s":"k","x":-15,"z":-1.006},{"p":"d","s":"k","x":-14.23,"z":-0.99},{"p":"d","s":"k","x":-13.21,"z":-0.91},{"p":"d","s":"k","x":-12.2,"z":-0.83},{"p":"d","s":"k","x":-11.43,"z":-0.703},{"p":"d","s":"k","x":-10.67,"z":-0.543},{"p":"d","s":"k","x":-9.9,"z":-0.4},{"p":"d","s":"k","x":-9.27,"z":-0.415},{"p":"d","s":"k","x":-8.5,"z":-0.511},{"p":"d","s":"k","x":-7.87,"z":-0.607},{"p":"d","s":"k","x":-7.24,"z":-0.4},{"p":"d","s":"k","x":-6.85,"z":-0.479},{"p":"d","s":"k","x":-6.47,"z":-0.575},{"p":"d","s":"k","x":-5.96,"z":-0.352},{"p":"d","s":"k","x":-5.07,"z":-0.32},{"p":"d","s":"k","x":-4.06,"z":-0.288},{"p":"d","s":"k","x":-3.04,"z":-0.24},{"p":"d","s":"k","x":-2.02,"z":-0.208},{"p":"d","s":"k","x":-1,"z":-0.128},{"p":"d","s":"k","x":0,"z":-0.049},{"p":"d","s":"k","x":1.54,"z":0.079},{"p":"d","s":"k","x":3.06,"z":0.207},{"p":"d","s":"k","x":4.08,"z":0.318},{"p":"d","s":"k","x":5.1,"z":0.462},{"p":"d","s":"k","x":5.86,"z":0.525},{"p":"d","s":"k","x":6.75,"z":0.535},{"p":"d","s":"k","x":7.64,"z":0.548},{"p":"d","s":"k","x":8.66,"z":0.605},{"p":"d","s":"k","x":9.42,"z":0.653},{"p":"d","s":"k","x":10.43,"z":0.765},{"p":"d","s":"k","x":11.7,"z":0.908},

{"p":"e","s":"d","x":-21.98,"z":-1.44},{"p":"e","s":"d","x":-20,"z":-1.34},{"p":"e","s":"d","x":-18,"z":-1.24},{"p":"e","s":"d","x":-16.5,"z":-1.12},{"p":"e","s":"d","x":-15,"z":-1.02},{"p":"e","s":"d","x":-13.72,"z":-0.862},{"p":"e","s":"d","x":-12.2,"z":-0.734},{"p":"e","s":"d","x":-10.92,"z":-0.67},{"p":"e","s":"d","x":-9.65,"z":-0.575},{"p":"e","s":"d","x":-8.63,"z":-0.463},{"p":"e","s":"d","x":-7.1,"z":-0.384},{"p":"e","s":"d","x":-5.83,"z":-0.32},{"p":"e","s":"d","x":-4.57,"z":-0.304},{"p":"e","s":"d","x":-3.3,"z":-0.208},{"p":"e","s":"d","x":-2.02,"z":-0.128},{"p":"e","s":"d","x":0,"z":-0.033},{"p":"e","s":"d","x":2.04,"z":0.079},{"p":"e","s":"d","x":4.33,"z":0.302},{"p":"e","s":"d","x":5.6,"z":0.414},{"p":"e","s":"d","x":6.87,"z":0.494},{"p":"e","s":"d","x":8.15,"z":0.573},{"p":"e","s":"d","x":9.67,"z":0.7},
{"p":"e","s":"l","x":-21.98,"z":-1.38},{"p":"e","s":"l","x":-21.5,"z":-1.33},{"p":"e","s":"l","x":-21,"z":-1.4},{"p":"e","s":"l","x":-20.5,"z":-1.36},{"p":"e","s":"l","x":-20,"z":-1.3},{"p":"e","s":"l","x":-19.5,"z":-1.34},{"p":"e","s":"l","x":-19,"z":-1.27},{"p":"e","s":"l","x":-18.5,"z":-1.3},{"p":"e","s":"l","x":-18,"z":-1.22},{"p":"e","s":"l","x":-17.5,"z":-1.25},{"p":"e","s":"l","x":-17,"z":-1.15},{"p":"e","s":"l","x":-16.5,"z":-1.16},{"p":"e","s":"l","x":-16,"z":-1.1},{"p":"e","s":"l","x":-15,"z":-1.03},{"p":"e","s":"l","x":-14.2,"z":-0.95},{"p":"e","s":"l","x":-13.3,"z":-0.87},{"p":"e","s":"l","x":-12.3,"z":-0.74},{"p":"e","s":"l","x":-11.5,"z":-0.61},{"p":"e","s":"l","x":-10.8,"z":-0.47},{"p":"e","s":"l","x":-10.2,"z":-0.5},{"p":"e","s":"l","x":-9.7,"z":-0.58},{"p":"e","s":"l","x":-9.3,"z":-0.5},{"p":"e","s":"l","x":-8.8,"z":-0.38},{"p":"e","s":"l","x":-8.3,"z":-0.38},{"p":"e","s":"l","x":-7.8,"z":-0.45},{"p":"e","s":"l","x":-7.4,"z":-0.54},{"p":"e","s":"l","x":-7,"z":-0.4},{"p":"e","s":"l","x":-6.3,"z":-0.33},{"p":"e","s":"l","x":-5,"z":-0.27},{"p":"e","s":"l","x":-3.5,"z":-0.22},{"p":"e","s":"l","x":-2,"z":-0.15},{"p":"e","s":"l","x":-0.5,"z":-0.07},{"p":"e","s":"l","x":1,"z":0.0},{"p":"e","s":"l","x":2.5,"z":0.09},{"p":"e","s":"l","x":4,"z":0.24},{"p":"e","s":"l","x":5,"z":0.37},{"p":"e","s":"l","x":6,"z":0.52},{"p":"e","s":"l","x":7,"z":0.6},{"p":"e","s":"l","x":8,"z":0.63},{"p":"e","s":"l","x":9,"z":0.66},{"p":"e","s":"l","x":10,"z":0.7},
{"p":"e","s":"m","x":-21.98,"z":-1.42},{"p":"e","s":"m","x":-21,"z":-1.38},{"p":"e","s":"m","x":-20,"z":-1.33},{"p":"e","s":"m","x":-19,"z":-1.3},{"p":"e","s":"m","x":-18,"z":-1.24},{"p":"e","s":"m","x":-17.3,"z":-1.2},{"p":"e","s":"m","x":-16.5,"z":-1.14},{"p":"e","s":"m","x":-15.75,"z":-1.1},{"p":"e","s":"m","x":-15,"z":-1.04},{"p":"e","s":"m","x":-14.3,"z":-0.96},{"p":"e","s":"m","x":-13.5,"z":-0.88},{"p":"e","s":"m","x":-12.5,"z":-0.76},{"p":"e","s":"m","x":-11.6,"z":-0.6},{"p":"e","s":"m","x":-10.9,"z":-0.48},{"p":"e","s":"m","x":-10.4,"z":-0.5},{"p":"e","s":"m","x":-9.9,"z":-0.6},{"p":"e","s":"m","x":-9.6,"z":-0.63},{"p":"e","s":"m","x":-9.2,"z":-0.5},{"p":"e","s":"m","x":-8.8,"z":-0.4},{"p":"e","s":"m","x":-8.3,"z":-0.42},{"p":"e","s":"m","x":-7.8,"z":-0.43},{"p":"e","s":"m","x":-7.3,"z":-0.36},{"p":"e","s":"m","x":-6.3,"z":-0.3},{"p":"e","s":"m","x":-5,"z":-0.255},{"p":"e","s":"m","x":-3.5,"z":-0.23},{"p":"e","s":"m","x":-2,"z":-0.18},{"p":"e","s":"m","x":-0.5,"z":-0.11},{"p":"e","s":"m","x":1,"z":-0.03},{"p":"e","s":"m","x":2.5,"z":0.07},{"p":"e","s":"m","x":4,"z":0.23},{"p":"e","s":"m","x":5,"z":0.38},{"p":"e","s":"m","x":6,"z":0.55},{"p":"e","s":"m","x":7,"z":0.64},{"p":"e","s":"m","x":8,"z":0.67},{"p":"e","s":"m","x":9,"z":0.68},{"p":"e","s":"m","x":10,"z":0.7},
{"p":"e","s":"g","x":-21.98,"z":-1.44},{"p":"e","s":"g","x":-21,"z":-1.41},{"p":"e","s":"g","x":-20,"z":-1.35},{"p":"e","s":"g","x":-19,"z":-1.3},{"p":"e","s":"g","x":-18,"z":-1.25},{"p":"e","s":"g","x":-17.3,"z":-1.19},{"p":"e","s":"g","x":-16.5,"z":-1.15},{"p":"e","s":"g","x":-15.75,"z":-1.09},{"p":"e","s":"g","x":-15,"z":-1.04},{"p":"e","s":"g","x":-14.4,"z":-0.92},{"p":"e","s":"g","x":-13.6,"z":-0.79},{"p":"e","s":"g","x":-12.6,"z":-0.66},{"p":"e","s":"g","x":-11.6,"z":-0.54},{"p":"e","s":"g","x":-11,"z":-0.5},{"p":"e","s":"g","x":-10.4,"z":-0.56},{"p":"e","s":"g","x":-9.9,"z":-0.62},{"p":"e","s":"g","x":-9.4,"z":-0.52},{"p":"e","s":"g","x":-9,"z":-0.43},{"p":"e","s":"g","x":-8.5,"z":-0.44},{"p":"e","s":"g","x":-7.9,"z":-0.44},{"p":"e","s":"g","x":-7.4,"z":-0.37},{"p":"e","s":"g","x":-6.3,"z":-0.3},{"p":"e","s":"g","x":-5,"z":-0.245},{"p":"e","s":"g","x":-3.5,"z":-0.235},{"p":"e","s":"g","x":-2,"z":-0.2},{"p":"e","s":"g","x":-0.5,"z":-0.13},{"p":"e","s":"g","x":1,"z":-0.05},{"p":"e","s":"g","x":2.5,"z":0.06},{"p":"e","s":"g","x":4,"z":0.22},{"p":"e","s":"g","x":5,"z":0.38},{"p":"e","s":"g","x":6,"z":0.57},{"p":"e","s":"g","x":7,"z":0.67},{"p":"e","s":"g","x":7.6,"z":0.7},{"p":"e","s":"g","x":8.5,"z":0.69},{"p":"e","s":"g","x":9.4,"z":0.7},{"p":"e","s":"g","x":10,"z":0.7},
{"p":"e","s":"k","x":-21.98,"z":-1.42},{"p":"e","s":"k","x":-21.35,"z":-1.436},{"p":"e","s":"k","x":-20.58,"z":-1.388},{"p":"e","s":"k","x":-19.57,"z":-1.309},{"p":"e","s":"k","x":-18.55,"z":-1.277},{"p":"e","s":"k","x":-17.53,"z":-1.213},{"p":"e","s":"k","x":-17.03,"z":-1.117},{"p":"e","s":"k","x":-16.5,"z":-1.181},{"p":"e","s":"k","x":-15.75,"z":-1.085},{"p":"e","s":"k","x":-15,"z":-1.037},{"p":"e","s":"k","x":-14.48,"z":-0.894},{"p":"e","s":"k","x":-13.72,"z":-0.735},{"p":"e","s":"k","x":-12.7,"z":-0.607},{"p":"e","s":"k","x":-11.94,"z":-0.511},{"p":"e","s":"k","x":-11.18,"z":-0.479},{"p":"e","s":"k","x":-10.54,"z":-0.575},{"p":"e","s":"k","x":-10.03,"z":-0.696},{"p":"e","s":"k","x":-9.52,"z":-0.575},{"p":"e","s":"k","x":-9,"z":-0.415},{"p":"e","s":"k","x":-8.5,"z":-0.463},{"p":"e","s":"k","x":-7.87,"z":-0.463},{"p":"e","s":"k","x":-7.36,"z":-0.352},{"p":"e","s":"k","x":-6.35,"z":-0.288},{"p":"e","s":"k","x":-5.07,"z":-0.24},{"p":"e","s":"k","x":-3.55,"z":-0.24},{"p":"e","s":"k","x":-2.02,"z":-0.208},{"p":"e","s":"k","x":-0.5,"z":-0.144},{"p":"e","s":"k","x":0.52,"z":-0.08},{"p":"e","s":"k","x":1.54,"z":0.031},{"p":"e","s":"k","x":2.8,"z":0.11},{"p":"e","s":"k","x":4.08,"z":0.27},{"p":"e","s":"k","x":4.84,"z":0.382},{"p":"e","s":"k","x":5.6,"z":0.51},{"p":"e","s":"k","x":6.62,"z":0.637},{"p":"e","s":"k","x":7.51,"z":0.717},{"p":"e","s":"k","x":8.15,"z":0.7},{"p":"e","s":"k","x":8.78,"z":0.685},{"p":"e","s":"k","x":9.42,"z":0.717},{"p":"e","s":"k","x":10.05,"z":0.707},{"p":"e","s":"k","x":10.7,"z":0.765},{"p":"e","s":"k","x":11.45,"z":0.829},{"p":"e","s":"k","x":11.83,"z":0.813},

{"p":"f","s":"d","x":-21.98,"z":-1.45},{"p":"f","s":"d","x":-19.82,"z":-1.37},{"p":"f","s":"d","x":-17.28,"z":-1.2},{"p":"f","s":"d","x":-16,"z":-1.09},{"p":"f","s":"d","x":-15,"z":-0.99},{"p":"f","s":"d","x":-13.85,"z":-0.89},{"p":"f","s":"d","x":-12.2,"z":-0.76},{"p":"f","s":"d","x":-11.18,"z":-0.623},{"p":"f","s":"d","x":-9.65,"z":-0.607},{"p":"f","s":"d","x":-8.12,"z":-0.59},{"p":"f","s":"d","x":-7.6,"z":-0.5},{"p":"f","s":"d","x":-7,"z":-0.42},{"p":"f","s":"d","x":-6.35,"z":-0.38},{"p":"f","s":"d","x":-5.83,"z":-0.3},{"p":"f","s":"d","x":-5.3,"z":-0.2},{"p":"f","s":"d","x":-4.82,"z":-0.176},{"p":"f","s":"d","x":-4.3,"z":-0.22},{"p":"f","s":"d","x":-3.6,"z":-0.27},{"p":"f","s":"d","x":-3.1,"z":-0.31},{"p":"f","s":"d","x":-2.79,"z":-0.32},{"p":"f","s":"d","x":-2.5,"z":-0.25},{"p":"f","s":"d","x":-2.28,"z":-0.24},{"p":"f","s":"d","x":-1.26,"z":-0.208},{"p":"f","s":"d","x":-0.5,"z":-0.128},{"p":"f","s":"d","x":0,"z":-0.001},{"p":"f","s":"d","x":0.77,"z":0.175},{"p":"f","s":"d","x":1.79,"z":0.286},{"p":"f","s":"d","x":2.68,"z":0.27},{"p":"f","s":"d","x":3.31,"z":0.254},{"p":"f","s":"d","x":4.08,"z":0.254},{"p":"f","s":"d","x":4.84,"z":0.35},{"p":"f","s":"d","x":5.86,"z":0.462},{"p":"f","s":"d","x":6.87,"z":0.59},
{"p":"f","s":"l","x":-21.98,"z":-1.45},{"p":"f","s":"l","x":-19.82,"z":-1.37},{"p":"f","s":"l","x":-17.28,"z":-1.2},{"p":"f","s":"l","x":-16,"z":-1.09},{"p":"f","s":"l","x":-15,"z":-0.99},{"p":"f","s":"l","x":-14.3,"z":-0.96},{"p":"f","s":"l","x":-13.85,"z":-0.88},{"p":"f","s":"l","x":-12.2,"z":-0.75},{"p":"f","s":"l","x":-11.18,"z":-0.7},{"p":"f","s":"l","x":-10.4,"z":-0.6},{"p":"f","s":"l","x":-9.4,"z":-0.463},{"p":"f","s":"l","x":-8.8,"z":-0.5},{"p":"f","s":"l","x":-8.2,"z":-0.56},{"p":"f","s":"l","x":-7.7,"z":-0.6},{"p":"f","s":"l","x":-7.2,"z":-0.47},{"p":"f","s":"l","x":-6.8,"z":-0.37},{"p":"f","s":"l","x":-6.3,"z":-0.4},{"p":"f","s":"l","x":-5.9,"z":-0.36},{"p":"f","s":"l","x":-5.4,"z":-0.31},{"p":"f","s":"l","x":-4.57,"z":-0.28},{"p":"f","s":"l","x":-3.3,"z":-0.215},{"p":"f","s":"l","x":-2.02,"z":-0.14},{"p":"f","s":"l","x":-0.5,"z":-0.05},{"p":"f","s":"l","x":0.52,"z":0.015},{"p":"f","s":"l","x":1.79,"z":0.11},{"p":"f","s":"l","x":3.06,"z":0.22},{"p":"f","s":"l","x":4.33,"z":0.35},{"p":"f","s":"l","x":5.6,"z":0.49},{"p":"f","s":"l","x":6.87,"z":0.62},
{"p":"f","s":"m","x":-21.98,"z":-1.45},{"p":"f","s":"m","x":-19.82,"z":-1.37},{"p":"f","s":"m","x":-17.28,"z":-1.2},{"p":"f","s":"m","x":-16,"z":-1.09},{"p":"f","s":"m","x":-15,"z":-0.99},{"p":"f","s":"m","x":-14.3,"z":-0.97},{"p":"f","s":"m","x":-13.85,"z":-0.89},{"p":"f","s":"m","x":-12.2,"z":-0.75},{"p":"f","s":"m","x":-11.18,"z":-0.67},{"p":"f","s":"m","x":-10.4,"z":-0.56},{"p":"f","s":"m","x":-9.7,"z":-0.48},{"p":"f","s":"m","x":-9.2,"z":-0.43},{"p":"f","s":"m","x":-8.5,"z":-0.5},{"p":"f","s":"m","x":-7.9,"z":-0.6},{"p":"f","s":"m","x":-7.5,"z":-0.66},{"p":"f","s":"m","x":-7.1,"z":-0.52},{"p":"f","s":"m","x":-6.7,"z":-0.44},{"p":"f","s":"m","x":-6.3,"z":-0.51},{"p":"f","s":"m","x":-5.9,"z":-0.38},{"p":"f","s":"m","x":-5.4,"z":-0.32},{"p":"f","s":"m","x":-4.57,"z":-0.285},{"p":"f","s":"m","x":-3.3,"z":-0.22},{"p":"f","s":"m","x":-2.02,"z":-0.145},{"p":"f","s":"m","x":-0.5,"z":-0.06},{"p":"f","s":"m","x":0.52,"z":0.005},{"p":"f","s":"m","x":1.79,"z":0.1},{"p":"f","s":"m","x":3.06,"z":0.21},{"p":"f","s":"m","x":4.33,"z":0.34},{"p":"f","s":"m","x":5.6,"z":0.48},{"p":"f","s":"m","x":6.87,"z":0.61},
{"p":"f","s":"g","x":-21.98,"z":-1.45},{"p":"f","s":"g","x":-19.82,"z":-1.37},{"p":"f","s":"g","x":-17.28,"z":-1.2},{"p":"f","s":"g","x":-16,"z":-1.09},{"p":"f","s":"g","x":-15,"z":-0.99},{"p":"f","s":"g","x":-14.3,"z":-0.97},{"p":"f","s":"g","x":-13.85,"z":-0.89},{"p":"f","s":"g","x":-12.2,"z":-0.75},{"p":"f","s":"g","x":-11.18,"z":-0.68},{"p":"f","s":"g","x":-10.4,"z":-0.53},{"p":"f","s":"g","x":-9.7,"z":-0.42},{"p":"f","s":"g","x":-9.2,"z":-0.43},{"p":"f","s":"g","x":-8.5,"z":-0.52},{"p":"f","s":"g","x":-7.9,"z":-0.62},{"p":"f","s":"g","x":-7.5,"z":-0.68},{"p":"f","s":"g","x":-7.1,"z":-0.55},{"p":"f","s":"g","x":-6.8,"z":-0.42},{"p":"f","s":"g","x":-6.4,"z":-0.44},{"p":"f","s":"g","x":-6.1,"z":-0.4},{"p":"f","s":"g","x":-5.8,"z":-0.33},{"p":"f","s":"g","x":-4.57,"z":-0.29},{"p":"f","s":"g","x":-3.3,"z":-0.225},{"p":"f","s":"g","x":-2.02,"z":-0.15},{"p":"f","s":"g","x":-0.5,"z":-0.07},{"p":"f","s":"g","x":0.52,"z":-0.005},{"p":"f","s":"g","x":1.79,"z":0.09},{"p":"f","s":"g","x":3.06,"z":0.2},{"p":"f","s":"g","x":4.33,"z":0.33},{"p":"f","s":"g","x":5.6,"z":0.47},{"p":"f","s":"g","x":6.87,"z":0.6},
{"p":"f","s":"k","x":-21.98,"z":-1.452},{"p":"f","s":"k","x":-20.84,"z":-1.42},{"p":"f","s":"k","x":-19.82,"z":-1.372},{"p":"f","s":"k","x":-18.55,"z":-1.293},{"p":"f","s":"k","x":-17.28,"z":-1.197},{"p":"f","s":"k","x":-16,"z":-1.085},{"p":"f","s":"k","x":-15,"z":-0.99},{"p":"f","s":"k","x":-14.6,"z":-0.958},{"p":"f","s":"k","x":-14.28,"z":-1.037},{"p":"f","s":"k","x":-13.85,"z":-0.878},{"p":"f","s":"k","x":-13.2,"z":-0.83},{"p":"f","s":"k","x":-12.2,"z":-0.75},{"p":"f","s":"k","x":-11.18,"z":-0.687},{"p":"f","s":"k","x":-10.41,"z":-0.511},{"p":"f","s":"k","x":-9.65,"z":-0.4},{"p":"f","s":"k","x":-9.14,"z":-0.415},{"p":"f","s":"k","x":-8.5,"z":-0.511},{"p":"f","s":"k","x":-8,"z":-0.607},{"p":"f","s":"k","x":-7.54,"z":-0.671},{"p":"f","s":"k","x":-7.1,"z":-0.543},{"p":"f","s":"k","x":-6.73,"z":-0.384},{"p":"f","s":"k","x":-6.35,"z":-0.415},{"p":"f","s":"k","x":-5.83,"z":-0.32},{"p":"f","s":"k","x":-4.57,"z":-0.288},{"p":"f","s":"k","x":-3.3,"z":-0.224},{"p":"f","s":"k","x":-2.02,"z":-0.16},{"p":"f","s":"k","x":-0.5,"z":-0.08},{"p":"f","s":"k","x":0.52,"z":-0.017},{"p":"f","s":"k","x":1.79,"z":0.079},{"p":"f","s":"k","x":3.06,"z":0.19},{"p":"f","s":"k","x":4.33,"z":0.318},{"p":"f","s":"k","x":5.6,"z":0.446},{"p":"f","s":"k","x":6.87,"z":0.59},{"p":"f","s":"k","x":7.51,"z":0.717},{"p":"f","s":"k","x":8.15,"z":0.7},{"p":"f","s":"k","x":8.9,"z":0.675},{"p":"f","s":"k","x":9.55,"z":0.707},{"p":"f","s":"k","x":10.18,"z":0.7},{"p":"f","s":"k","x":10.94,"z":0.765},{"p":"f","s":"k","x":11.7,"z":0.822}
]},
"columns":2,
"bounds":"flush",
"spacing":{"row":52,"column":70},
"concat":[
{"width":445,"height":261,"resolve":{"axis":{"x":"independent","y":"independent"}},"layer":[
 {"data":{"values":[{}]},"mark":{"type":"point","opacity":0},"encoding":{"x":{"datum":0,"type":"quantitative","scale":{"domain":[-22,11.9],"nice":false,"zero":false},"axis":{"orient":"bottom","values":[-21,-20,-19,-18,-17,-16,-15,-14,-13,-12,-11,-10,-9,-8,-7,-6,-5,-4,-3,-2,-1,0,1,2,3,4,5,6,7,8,9,10,11],"labels":false,"grid":false,"title":null,"tickSize":{"condition":{"test":"datum.value % 5 === 0","value":-5},"value":-2.5}}},"y":{"datum":0,"type":"quantitative","scale":{"domain":[-1.5,1],"nice":false,"zero":false},"axis":{"orient":"left","values":[-1.4,-1.3,-1.2,-1.1,-1,-0.9,-0.8,-0.7,-0.6,-0.5,-0.4,-0.3,-0.2,-0.1,0,0.1,0.2,0.3,0.4,0.5,0.6,0.7,0.8,0.9],"labels":false,"grid":false,"title":null,"tickSize":{"condition":{"test":"abs(datum.value*2-round(datum.value*2))<0.01","value":-5},"value":-2.5}}}}},
 {"data":{"values":[{}]},"mark":{"type":"point","opacity":0},"encoding":{"x":{"datum":0,"type":"quantitative","scale":{"domain":[-22,11.9],"nice":false,"zero":false},"axis":{"orient":"top","values":[-21,-20,-19,-18,-17,-16,-15,-14,-13,-12,-11,-10,-9,-8,-7,-6,-5,-4,-3,-2,-1,0,1,2,3,4,5,6,7,8,9,10,11],"labels":false,"grid":false,"title":null,"tickSize":{"condition":{"test":"datum.value % 5 === 0","value":-5},"value":-2.5}}},"y":{"datum":0,"type":"quantitative","scale":{"domain":[-1.5,1],"nice":false,"zero":false},"axis":{"orient":"right","values":[-1.4,-1.3,-1.2,-1.1,-1,-0.9,-0.8,-0.7,-0.6,-0.5,-0.4,-0.3,-0.2,-0.1,0,0.1,0.2,0.3,0.4,0.5,0.6,0.7,0.8,0.9],"labels":false,"grid":false,"title":null,"tickSize":{"condition":{"test":"abs(datum.value*2-round(datum.value*2))<0.01","value":-5},"value":-2.5}}}}},
 {"data":{"name":"prof"},"transform":[{"filter":"datum.p==='a' && datum.s!=='k'"}],"mark":{"type":"line","clip":true,"strokeWidth":1.5,"strokeJoin":"round","interpolate":"monotone"},"encoding":{"x":{"field":"x","type":"quantitative","scale":{"domain":[-22,11.9],"nice":false,"zero":false},"axis":{"orient":"bottom","values":[-20,-15,-10,-5,0,5,10],"ticks":false,"grid":true,"labelExpr":"''+datum.value","labelFont":"Liberation Serif","title":null}},"y":{"field":"z","type":"quantitative","scale":{"domain":[-1.5,1],"nice":false,"zero":false},"axis":{"orient":"left","values":[-1.5,-1,-0.5,0,0.5,1],"ticks":false,"grid":true,"labelExpr":"''+datum.value","labelFont":"Liberation Serif","titleFont":"Liberation Serif","title":"z (m)","titlePadding":8}},"color":{"field":"s","type":"nominal","scale":{"domain":["d","l","m","g"],"range":["#000000","#a8a8a8","#7c7c7c","#4d4d4d"]},"legend":null},"strokeDash":{"field":"s","type":"nominal","scale":{"domain":["d","l","m","g"],"range":[[7,3,1.5,3],[1,0],[1,0],[1,0]]},"legend":null}}},
 {"data":{"name":"prof"},"transform":[{"filter":"datum.p==='a' && datum.s==='k'"}],"mark":{"type":"line","clip":true,"strokeWidth":2.2,"color":"#000000","strokeJoin":"round","interpolate":"monotone"},"encoding":{"x":{"field":"x","type":"quantitative","scale":{"domain":[-22,11.9],"nice":false,"zero":false},"axis":null},"y":{"field":"z","type":"quantitative","scale":{"domain":[-1.5,1],"nice":false,"zero":false},"axis":null}}},
 {"data":{"values":[{}]},"mark":{"type":"text","text":"a","font":"Liberation Serif","fontSize":20,"fontWeight":"bold","align":"left","baseline":"alphabetic","color":"#000000"},"encoding":{"x":{"datum":-21.05,"type":"quantitative","scale":{"domain":[-22,11.9],"nice":false,"zero":false},"axis":null},"y":{"datum":0.545,"type":"quantitative","scale":{"domain":[-1.5,1],"nice":false,"zero":false},"axis":null}}},
 {"data":{"values":[{}]},"mark":{"type":"text","text":")","font":"Liberation Serif","fontSize":20,"align":"left","baseline":"alphabetic","color":"#000000"},"encoding":{"x":{"datum":-20.22,"type":"quantitative","scale":{"domain":[-22,11.9],"nice":false,"zero":false},"axis":null},"y":{"datum":0.545,"type":"quantitative","scale":{"domain":[-1.5,1],"nice":false,"zero":false},"axis":null}}},
 {"data":{"values":[{}]},"mark":{"type":"text","text":"E1 - Sequence 1","font":"Liberation Serif","fontSize":20,"align":"left","baseline":"alphabetic","color":"#000000"},"encoding":{"x":{"datum":-18.55,"type":"quantitative","scale":{"domain":[-22,11.9],"nice":false,"zero":false},"axis":null},"y":{"datum":0.545,"type":"quantitative","scale":{"domain":[-1.5,1],"nice":false,"zero":false},"axis":null}}}
]},
{"width":445,"height":261,"resolve":{"axis":{"x":"independent","y":"independent"}},"layer":[
 {"data":{"values":[{}]},"mark":{"type":"point","opacity":0},"encoding":{"x":{"datum":0,"type":"quantitative","scale":{"domain":[-22,11.9],"nice":false,"zero":false},"axis":{"orient":"bottom","values":[-21,-20,-19,-18,-17,-16,-15,-14,-13,-12,-11,-10,-9,-8,-7,-6,-5,-4,-3,-2,-1,0,1,2,3,4,5,6,7,8,9,10,11],"labels":false,"grid":false,"title":null,"tickSize":{"condition":{"test":"datum.value % 5 === 0","value":-5},"value":-2.5}}},"y":{"datum":0,"type":"quantitative","scale":{"domain":[-1.5,1],"nice":false,"zero":false},"axis":{"orient":"left","values":[-1.4,-1.3,-1.2,-1.1,-1,-0.9,-0.8,-0.7,-0.6,-0.5,-0.4,-0.3,-0.2,-0.1,0,0.1,0.2,0.3,0.4,0.5,0.6,0.7,0.8,0.9],"labels":false,"grid":false,"title":null,"tickSize":{"condition":{"test":"abs(datum.value*2-round(datum.value*2))<0.01","value":-5},"value":-2.5}}}}},
 {"data":{"values":[{}]},"mark":{"type":"point","opacity":0},"encoding":{"x":{"datum":0,"type":"quantitative","scale":{"domain":[-22,11.9],"nice":false,"zero":false},"axis":{"orient":"top","values":[-21,-20,-19,-18,-17,-16,-15,-14,-13,-12,-11,-10,-9,-8,-7,-6,-5,-4,-3,-2,-1,0,1,2,3,4,5,6,7,8,9,10,11],"labels":false,"grid":false,"title":null,"tickSize":{"condition":{"test":"datum.value % 5 === 0","value":-5},"value":-2.5}}},"y":{"datum":0,"type":"quantitative","scale":{"domain":[-1.5,1],"nice":false,"zero":false},"axis":{"orient":"right","values":[-1.4,-1.3,-1.2,-1.1,-1,-0.9,-0.8,-0.7,-0.6,-0.5,-0.4,-0.3,-0.2,-0.1,0,0.1,0.2,0.3,0.4,0.5,0.6,0.7,0.8,0.9],"labels":false,"grid":false,"title":null,"tickSize":{"condition":{"test":"abs(datum.value*2-round(datum.value*2))<0.01","value":-5},"value":-2.5}}}}},
 {"data":{"name":"prof"},"transform":[{"filter":"datum.p==='b' && datum.s!=='k'"}],"mark":{"type":"line","clip":true,"strokeWidth":1.5,"strokeJoin":"round","interpolate":"monotone"},"encoding":{"x":{"field":"x","type":"quantitative","scale":{"domain":[-22,11.9],"nice":false,"zero":false},"axis":{"orient":"bottom","values":[-20,-15,-10,-5,0,5,10],"ticks":false,"grid":true,"labelExpr":"''+datum.value","labelFont":"Liberation Serif","title":null}},"y":{"field":"z","type":"quantitative","scale":{"domain":[-1.5,1],"nice":false,"zero":false},"axis":{"orient":"left","values":[-1.5,-1,-0.5,0,0.5,1],"ticks":false,"grid":true,"labelExpr":"''+datum.value","labelFont":"Liberation Serif","title":null}},"color":{"field":"s","type":"nominal","scale":{"domain":["d","l","m","g"],"range":["#000000","#a8a8a8","#7c7c7c","#4d4d4d"]},"legend":null},"strokeDash":{"field":"s","type":"nominal","scale":{"domain":["d","l","m","g"],"range":[[7,3,1.5,3],[1,0],[1,0],[1,0]]},"legend":null}}},
 {"data":{"name":"prof"},"transform":[{"filter":"datum.p==='b' && datum.s==='k'"}],"mark":{"type":"line","clip":true,"strokeWidth":2.2,"color":"#000000","strokeJoin":"round","interpolate":"monotone"},"encoding":{"x":{"field":"x","type":"quantitative","scale":{"domain":[-22,11.9],"nice":false,"zero":false},"axis":null},"y":{"field":"z","type":"quantitative","scale":{"domain":[-1.5,1],"nice":false,"zero":false},"axis":null}}},
 {"data":{"values":[{}]},"mark":{"type":"text","text":"b","font":"Liberation Serif","fontSize":20,"fontWeight":"bold","align":"left","baseline":"alphabetic","color":"#000000"},"encoding":{"x":{"datum":-21.05,"type":"quantitative","scale":{"domain":[-22,11.9],"nice":false,"zero":false},"axis":null},"y":{"datum":0.545,"type":"quantitative","scale":{"domain":[-1.5,1],"nice":false,"zero":false},"axis":null}}},
 {"data":{"values":[{}]},"mark":{"type":"text","text":")","font":"Liberation Serif","fontSize":20,"align":"left","baseline":"alphabetic","color":"#000000"},"encoding":{"x":{"datum":-20.18,"type":"quantitative","scale":{"domain":[-22,11.9],"nice":false,"zero":false},"axis":null},"y":{"datum":0.545,"type":"quantitative","scale":{"domain":[-1.5,1],"nice":false,"zero":false},"axis":null}}},
 {"data":{"values":[{}]},"mark":{"type":"text","text":"E2 - Sequence 1","font":"Liberation Serif","fontSize":20,"align":"left","baseline":"alphabetic","color":"#000000"},"encoding":{"x":{"datum":-18.55,"type":"quantitative","scale":{"domain":[-22,11.9],"nice":false,"zero":false},"axis":null},"y":{"datum":0.545,"type":"quantitative","scale":{"domain":[-1.5,1],"nice":false,"zero":false},"axis":null}}}
]},
{"width":445,"height":261,"resolve":{"axis":{"x":"independent","y":"independent"}},"layer":[
 {"data":{"values":[{}]},"mark":{"type":"point","opacity":0},"encoding":{"x":{"datum":0,"type":"quantitative","scale":{"domain":[-22,11.9],"nice":false,"zero":false},"axis":{"orient":"bottom","values":[-21,-20,-19,-18,-17,-16,-15,-14,-13,-12,-11,-10,-9,-8,-7,-6,-5,-4,-3,-2,-1,0,1,2,3,4,5,6,7,8,9,10,11],"labels":false,"grid":false,"title":null,"tickSize":{"condition":{"test":"datum.value % 5 === 0","value":-5},"value":-2.5}}},"y":{"datum":0,"type":"quantitative","scale":{"domain":[-1.5,1],"nice":false,"zero":false},"axis":{"orient":"left","values":[-1.4,-1.3,-1.2,-1.1,-1,-0.9,-0.8,-0.7,-0.6,-0.5,-0.4,-0.3,-0.2,-0.1,0,0.1,0.2,0.3,0.4,0.5,0.6,0.7,0.8,0.9],"labels":false,"grid":false,"title":null,"tickSize":{"condition":{"test":"abs(datum.value*2-round(datum.value*2))<0.01","value":-5},"value":-2.5}}}}},
 {"data":{"values":[{}]},"mark":{"type":"point","opacity":0},"encoding":{"x":{"datum":0,"type":"quantitative","scale":{"domain":[-22,11.9],"nice":false,"zero":false},"axis":{"orient":"top","values":[-21,-20,-19,-18,-17,-16,-15,-14,-13,-12,-11,-10,-9,-8,-7,-6,-5,-4,-3,-2,-1,0,1,2,3,4,5,6,7,8,9,10,11],"labels":false,"grid":false,"title":null,"tickSize":{"condition":{"test":"datum.value % 5 === 0","value":-5},"value":-2.5}}},"y":{"datum":0,"type":"quantitative","scale":{"domain":[-1.5,1],"nice":false,"zero":false},"axis":{"orient":"right","values":[-1.4,-1.3,-1.2,-1.1,-1,-0.9,-0.8,-0.7,-0.6,-0.5,-0.4,-0.3,-0.2,-0.1,0,0.1,0.2,0.3,0.4,0.5,0.6,0.7,0.8,0.9],"labels":false,"grid":false,"title":null,"tickSize":{"condition":{"test":"abs(datum.value*2-round(datum.value*2))<0.01","value":-5},"value":-2.5}}}}},
 {"data":{"name":"prof"},"transform":[{"filter":"datum.p==='c' && datum.s!=='k'"}],"mark":{"type":"line","clip":true,"strokeWidth":1.5,"strokeJoin":"round","interpolate":"monotone"},"encoding":{"x":{"field":"x","type":"quantitative","scale":{"domain":[-22,11.9],"nice":false,"zero":false},"axis":{"orient":"bottom","values":[-20,-15,-10,-5,0,5,10],"ticks":false,"grid":true,"labelExpr":"''+datum.value","labelFont":"Liberation Serif","title":null}},"y":{"field":"z","type":"quantitative","scale":{"domain":[-1.5,1],"nice":false,"zero":false},"axis":{"orient":"left","values":[-1.5,-1,-0.5,0,0.5,1],"ticks":false,"grid":true,"labelExpr":"''+datum.value","labelFont":"Liberation Serif","titleFont":"Liberation Serif","title":"z (m)","titlePadding":8}},"color":{"field":"s","type":"nominal","scale":{"domain":["d","l","m","g"],"range":["#000000","#a8a8a8","#7c7c7c","#4d4d4d"]},"legend":null},"strokeDash":{"field":"s","type":"nominal","scale":{"domain":["d","l","m","g"],"range":[[7,3,1.5,3],[1,0],[1,0],[1,0]]},"legend":null}}},
 {"data":{"name":"prof"},"transform":[{"filter":"datum.p==='c' && datum.s==='k'"}],"mark":{"type":"line","clip":true,"strokeWidth":2.2,"color":"#000000","strokeJoin":"round","interpolate":"monotone"},"encoding":{"x":{"field":"x","type":"quantitative","scale":{"domain":[-22,11.9],"nice":false,"zero":false},"axis":null},"y":{"field":"z","type":"quantitative","scale":{"domain":[-1.5,1],"nice":false,"zero":false},"axis":null}}},
 {"data":{"values":[{}]},"mark":{"type":"text","text":"c","font":"Liberation Serif","fontSize":20,"fontWeight":"bold","align":"left","baseline":"alphabetic","color":"#000000"},"encoding":{"x":{"datum":-21.05,"type":"quantitative","scale":{"domain":[-22,11.9],"nice":false,"zero":false},"axis":null},"y":{"datum":0.545,"type":"quantitative","scale":{"domain":[-1.5,1],"nice":false,"zero":false},"axis":null}}},
 {"data":{"values":[{}]},"mark":{"type":"text","text":")","font":"Liberation Serif","fontSize":20,"align":"left","baseline":"alphabetic","color":"#000000"},"encoding":{"x":{"datum":-20.3,"type":"quantitative","scale":{"domain":[-22,11.9],"nice":false,"zero":false},"axis":null},"y":{"datum":0.545,"type":"quantitative","scale":{"domain":[-1.5,1],"nice":false,"zero":false},"axis":null}}},
 {"data":{"values":[{}]},"mark":{"type":"text","text":"E1 - Sequence 2","font":"Liberation Serif","fontSize":20,"align":"left","baseline":"alphabetic","color":"#000000"},"encoding":{"x":{"datum":-18.55,"type":"quantitative","scale":{"domain":[-22,11.9],"nice":false,"zero":false},"axis":null},"y":{"datum":0.545,"type":"quantitative","scale":{"domain":[-1.5,1],"nice":false,"zero":false},"axis":null}}}
]},
{"width":445,"height":261,"resolve":{"axis":{"x":"independent","y":"independent"}},"layer":[
 {"data":{"values":[{}]},"mark":{"type":"point","opacity":0},"encoding":{"x":{"datum":0,"type":"quantitative","scale":{"domain":[-22,11.9],"nice":false,"zero":false},"axis":{"orient":"bottom","values":[-21,-20,-19,-18,-17,-16,-15,-14,-13,-12,-11,-10,-9,-8,-7,-6,-5,-4,-3,-2,-1,0,1,2,3,4,5,6,7,8,9,10,11],"labels":false,"grid":false,"title":null,"tickSize":{"condition":{"test":"datum.value % 5 === 0","value":-5},"value":-2.5}}},"y":{"datum":0,"type":"quantitative","scale":{"domain":[-1.5,1],"nice":false,"zero":false},"axis":{"orient":"left","values":[-1.4,-1.3,-1.2,-1.1,-1,-0.9,-0.8,-0.7,-0.6,-0.5,-0.4,-0.3,-0.2,-0.1,0,0.1,0.2,0.3,0.4,0.5,0.6,0.7,0.8,0.9],"labels":false,"grid":false,"title":null,"tickSize":{"condition":{"test":"abs(datum.value*2-round(datum.value*2))<0.01","value":-5},"value":-2.5}}}}},
 {"data":{"values":[{}]},"mark":{"type":"point","opacity":0},"encoding":{"x":{"datum":0,"type":"quantitative","scale":{"domain":[-22,11.9],"nice":false,"zero":false},"axis":{"orient":"top","values":[-21,-20,-19,-18,-17,-16,-15,-14,-13,-12,-11,-10,-9,-8,-7,-6,-5,-4,-3,-2,-1,0,1,2,3,4,5,6,7,8,9,10,11],"labels":false,"grid":false,"title":null,"tickSize":{"condition":{"test":"datum.value % 5 === 0","value":-5},"value":-2.5}}},"y":{"datum":0,"type":"quantitative","scale":{"domain":[-1.5,1],"nice":false,"zero":false},"axis":{"orient":"right","values":[-1.4,-1.3,-1.2,-1.1,-1,-0.9,-0.8,-0.7,-0.6,-0.5,-0.4,-0.3,-0.2,-0.1,0,0.1,0.2,0.3,0.4,0.5,0.6,0.7,0.8,0.9],"labels":false,"grid":false,"title":null,"tickSize":{"condition":{"test":"abs(datum.value*2-round(datum.value*2))<0.01","value":-5},"value":-2.5}}}}},
 {"data":{"name":"prof"},"transform":[{"filter":"datum.p==='d' && datum.s!=='k'"}],"mark":{"type":"line","clip":true,"strokeWidth":1.5,"strokeJoin":"round","interpolate":"monotone"},"encoding":{"x":{"field":"x","type":"quantitative","scale":{"domain":[-22,11.9],"nice":false,"zero":false},"axis":{"orient":"bottom","values":[-20,-15,-10,-5,0,5,10],"ticks":false,"grid":true,"labelExpr":"''+datum.value","labelFont":"Liberation Serif","title":null}},"y":{"field":"z","type":"quantitative","scale":{"domain":[-1.5,1],"nice":false,"zero":false},"axis":{"orient":"left","values":[-1.5,-1,-0.5,0,0.5,1],"ticks":false,"grid":true,"labelExpr":"''+datum.value","labelFont":"Liberation Serif","title":null}},"color":{"field":"s","type":"nominal","scale":{"domain":["d","l","m","g"],"range":["#000000","#a8a8a8","#7c7c7c","#4d4d4d"]},"legend":null},"strokeDash":{"field":"s","type":"nominal","scale":{"domain":["d","l","m","g"],"range":[[7,3,1.5,3],[1,0],[1,0],[1,0]]},"legend":null}}},
 {"data":{"name":"prof"},"transform":[{"filter":"datum.p==='d' && datum.s==='k'"}],"mark":{"type":"line","clip":true,"strokeWidth":2.2,"color":"#000000","strokeJoin":"round","interpolate":"monotone"},"encoding":{"x":{"field":"x","type":"quantitative","scale":{"domain":[-22,11.9],"nice":false,"zero":false},"axis":null},"y":{"field":"z","type":"quantitative","scale":{"domain":[-1.5,1],"nice":false,"zero":false},"axis":null}}},
 {"data":{"values":[{}]},"mark":{"type":"text","text":"d","font":"Liberation Serif","fontSize":20,"fontWeight":"bold","align":"left","baseline":"alphabetic","color":"#000000"},"encoding":{"x":{"datum":-21.05,"type":"quantitative","scale":{"domain":[-22,11.9],"nice":false,"zero":false},"axis":null},"y":{"datum":0.545,"type":"quantitative","scale":{"domain":[-1.5,1],"nice":false,"zero":false},"axis":null}}},
 {"data":{"values":[{}]},"mark":{"type":"text","text":")","font":"Liberation Serif","fontSize":20,"align":"left","baseline":"alphabetic","color":"#000000"},"encoding":{"x":{"datum":-20.18,"type":"quantitative","scale":{"domain":[-22,11.9],"nice":false,"zero":false},"axis":null},"y":{"datum":0.545,"type":"quantitative","scale":{"domain":[-1.5,1],"nice":false,"zero":false},"axis":null}}},
 {"data":{"values":[{}]},"mark":{"type":"text","text":"E2 - Sequence 2","font":"Liberation Serif","fontSize":20,"align":"left","baseline":"alphabetic","color":"#000000"},"encoding":{"x":{"datum":-18.55,"type":"quantitative","scale":{"domain":[-22,11.9],"nice":false,"zero":false},"axis":null},"y":{"datum":0.545,"type":"quantitative","scale":{"domain":[-1.5,1],"nice":false,"zero":false},"axis":null}}}
]},
{"width":445,"height":261,"resolve":{"axis":{"x":"independent","y":"independent"}},"layer":[
 {"data":{"values":[{}]},"mark":{"type":"point","opacity":0},"encoding":{"x":{"datum":0,"type":"quantitative","scale":{"domain":[-22,11.9],"nice":false,"zero":false},"axis":{"orient":"bottom","values":[-21,-20,-19,-18,-17,-16,-15,-14,-13,-12,-11,-10,-9,-8,-7,-6,-5,-4,-3,-2,-1,0,1,2,3,4,5,6,7,8,9,10,11],"labels":false,"grid":false,"title":null,"tickSize":{"condition":{"test":"datum.value % 5 === 0","value":-5},"value":-2.5}}},"y":{"datum":0,"type":"quantitative","scale":{"domain":[-1.5,1],"nice":false,"zero":false},"axis":{"orient":"left","values":[-1.4,-1.3,-1.2,-1.1,-1,-0.9,-0.8,-0.7,-0.6,-0.5,-0.4,-0.3,-0.2,-0.1,0,0.1,0.2,0.3,0.4,0.5,0.6,0.7,0.8,0.9],"labels":false,"grid":false,"title":null,"tickSize":{"condition":{"test":"abs(datum.value*2-round(datum.value*2))<0.01","value":-5},"value":-2.5}}}}},
 {"data":{"values":[{}]},"mark":{"type":"point","opacity":0},"encoding":{"x":{"datum":0,"type":"quantitative","scale":{"domain":[-22,11.9],"nice":false,"zero":false},"axis":{"orient":"top","values":[-21,-20,-19,-18,-17,-16,-15,-14,-13,-12,-11,-10,-9,-8,-7,-6,-5,-4,-3,-2,-1,0,1,2,3,4,5,6,7,8,9,10,11],"labels":false,"grid":false,"title":null,"tickSize":{"condition":{"test":"datum.value % 5 === 0","value":-5},"value":-2.5}}},"y":{"datum":0,"type":"quantitative","scale":{"domain":[-1.5,1],"nice":false,"zero":false},"axis":{"orient":"right","values":[-1.4,-1.3,-1.2,-1.1,-1,-0.9,-0.8,-0.7,-0.6,-0.5,-0.4,-0.3,-0.2,-0.1,0,0.1,0.2,0.3,0.4,0.5,0.6,0.7,0.8,0.9],"labels":false,"grid":false,"title":null,"tickSize":{"condition":{"test":"abs(datum.value*2-round(datum.value*2))<0.01","value":-5},"value":-2.5}}}}},
 {"data":{"name":"prof"},"transform":[{"filter":"datum.p==='e' && datum.s!=='k'"}],"mark":{"type":"line","clip":true,"strokeWidth":1.5,"strokeJoin":"round","interpolate":"monotone"},"encoding":{"x":{"field":"x","type":"quantitative","scale":{"domain":[-22,11.9],"nice":false,"zero":false},"axis":{"orient":"bottom","values":[-20,-15,-10,-5,0,5,10],"ticks":false,"grid":true,"labelExpr":"''+datum.value","labelFont":"Liberation Serif","titleFont":"Liberation Serif","title":"x (m)","titlePadding":4}},"y":{"field":"z","type":"quantitative","scale":{"domain":[-1.5,1],"nice":false,"zero":false},"axis":{"orient":"left","values":[-1.5,-1,-0.5,0,0.5,1],"ticks":false,"grid":true,"labelExpr":"''+datum.value","labelFont":"Liberation Serif","titleFont":"Liberation Serif","title":"z (m)","titlePadding":8}},"color":{"field":"s","type":"nominal","scale":{"domain":["d","l","m","g"],"range":["#000000","#a8a8a8","#7c7c7c","#4d4d4d"]},"legend":null},"strokeDash":{"field":"s","type":"nominal","scale":{"domain":["d","l","m","g"],"range":[[7,3,1.5,3],[1,0],[1,0],[1,0]]},"legend":null}}},
 {"data":{"name":"prof"},"transform":[{"filter":"datum.p==='e' && datum.s==='k'"}],"mark":{"type":"line","clip":true,"strokeWidth":2.2,"color":"#000000","strokeJoin":"round","interpolate":"monotone"},"encoding":{"x":{"field":"x","type":"quantitative","scale":{"domain":[-22,11.9],"nice":false,"zero":false},"axis":null},"y":{"field":"z","type":"quantitative","scale":{"domain":[-1.5,1],"nice":false,"zero":false},"axis":null}}},
 {"data":{"values":[{}]},"mark":{"type":"text","text":"e","font":"Liberation Serif","fontSize":20,"fontWeight":"bold","align":"left","baseline":"alphabetic","color":"#000000"},"encoding":{"x":{"datum":-21.05,"type":"quantitative","scale":{"domain":[-22,11.9],"nice":false,"zero":false},"axis":null},"y":{"datum":0.545,"type":"quantitative","scale":{"domain":[-1.5,1],"nice":false,"zero":false},"axis":null}}},
 {"data":{"values":[{}]},"mark":{"type":"text","text":")","font":"Liberation Serif","fontSize":20,"align":"left","baseline":"alphabetic","color":"#000000"},"encoding":{"x":{"datum":-20.3,"type":"quantitative","scale":{"domain":[-22,11.9],"nice":false,"zero":false},"axis":null},"y":{"datum":0.545,"type":"quantitative","scale":{"domain":[-1.5,1],"nice":false,"zero":false},"axis":null}}},
 {"data":{"values":[{}]},"mark":{"type":"text","text":"E1 - Sequence 3","font":"Liberation Serif","fontSize":20,"align":"left","baseline":"alphabetic","color":"#000000"},"encoding":{"x":{"datum":-18.55,"type":"quantitative","scale":{"domain":[-22,11.9],"nice":false,"zero":false},"axis":null},"y":{"datum":0.545,"type":"quantitative","scale":{"domain":[-1.5,1],"nice":false,"zero":false},"axis":null}}}
]},
{"width":445,"height":261,"resolve":{"axis":{"x":"independent","y":"independent"}},"layer":[
 {"data":{"values":[{}]},"mark":{"type":"point","opacity":0},"encoding":{"x":{"datum":0,"type":"quantitative","scale":{"domain":[-22,11.9],"nice":false,"zero":false},"axis":{"orient":"bottom","values":[-21,-20,-19,-18,-17,-16,-15,-14,-13,-12,-11,-10,-9,-8,-7,-6,-5,-4,-3,-2,-1,0,1,2,3,4,5,6,7,8,9,10,11],"labels":false,"grid":false,"title":null,"tickSize":{"condition":{"test":"datum.value % 5 === 0","value":-5},"value":-2.5}}},"y":{"datum":0,"type":"quantitative","scale":{"domain":[-1.5,1],"nice":false,"zero":false},"axis":{"orient":"left","values":[-1.4,-1.3,-1.2,-1.1,-1,-0.9,-0.8,-0.7,-0.6,-0.5,-0.4,-0.3,-0.2,-0.1,0,0.1,0.2,0.3,0.4,0.5,0.6,0.7,0.8,0.9],"labels":false,"grid":false,"title":null,"tickSize":{"condition":{"test":"abs(datum.value*2-round(datum.value*2))<0.01","value":-5},"value":-2.5}}}}},
 {"data":{"values":[{}]},"mark":{"type":"point","opacity":0},"encoding":{"x":{"datum":0,"type":"quantitative","scale":{"domain":[-22,11.9],"nice":false,"zero":false},"axis":{"orient":"top","values":[-21,-20,-19,-18,-17,-16,-15,-14,-13,-12,-11,-10,-9,-8,-7,-6,-5,-4,-3,-2,-1,0,1,2,3,4,5,6,7,8,9,10,11],"labels":false,"grid":false,"title":null,"tickSize":{"condition":{"test":"datum.value % 5 === 0","value":-5},"value":-2.5}}},"y":{"datum":0,"type":"quantitative","scale":{"domain":[-1.5,1],"nice":false,"zero":false},"axis":{"orient":"right","values":[-1.4,-1.3,-1.2,-1.1,-1,-0.9,-0.8,-0.7,-0.6,-0.5,-0.4,-0.3,-0.2,-0.1,0,0.1,0.2,0.3,0.4,0.5,0.6,0.7,0.8,0.9],"labels":false,"grid":false,"title":null,"tickSize":{"condition":{"test":"abs(datum.value*2-round(datum.value*2))<0.01","value":-5},"value":-2.5}}}}},
 {"data":{"name":"prof"},"transform":[{"filter":"datum.p==='f' && datum.s!=='k'"}],"mark":{"type":"line","clip":true,"strokeWidth":1.5,"strokeJoin":"round","interpolate":"monotone"},"encoding":{"x":{"field":"x","type":"quantitative","scale":{"domain":[-22,11.9],"nice":false,"zero":false},"axis":{"orient":"bottom","values":[-20,-15,-10,-5,0,5,10],"ticks":false,"grid":true,"labelExpr":"''+datum.value","labelFont":"Liberation Serif","titleFont":"Liberation Serif","title":"x (m)","titlePadding":4}},"y":{"field":"z","type":"quantitative","scale":{"domain":[-1.5,1],"nice":false,"zero":false},"axis":{"orient":"left","values":[-1.5,-1,-0.5,0,0.5,1],"ticks":false,"grid":true,"labelExpr":"''+datum.value","labelFont":"Liberation Serif","title":null}},"color":{"field":"s","type":"nominal","scale":{"domain":["d","l","m","g"],"range":["#000000","#a8a8a8","#7c7c7c","#4d4d4d"]},"legend":null},"strokeDash":{"field":"s","type":"nominal","scale":{"domain":["d","l","m","g"],"range":[[7,3,1.5,3],[1,0],[1,0],[1,0]]},"legend":null}}},
 {"data":{"name":"prof"},"transform":[{"filter":"datum.p==='f' && datum.s==='k'"}],"mark":{"type":"line","clip":true,"strokeWidth":2.2,"color":"#000000","strokeJoin":"round","interpolate":"monotone"},"encoding":{"x":{"field":"x","type":"quantitative","scale":{"domain":[-22,11.9],"nice":false,"zero":false},"axis":null},"y":{"field":"z","type":"quantitative","scale":{"domain":[-1.5,1],"nice":false,"zero":false},"axis":null}}},
 {"data":{"values":[{}]},"mark":{"type":"text","text":"f","font":"Liberation Serif","fontSize":20,"fontWeight":"bold","align":"left","baseline":"alphabetic","color":"#000000"},"encoding":{"x":{"datum":-21.05,"type":"quantitative","scale":{"domain":[-22,11.9],"nice":false,"zero":false},"axis":null},"y":{"datum":0.545,"type":"quantitative","scale":{"domain":[-1.5,1],"nice":false,"zero":false},"axis":null}}},
 {"data":{"values":[{}]},"mark":{"type":"text","text":")","font":"Liberation Serif","fontSize":20,"align":"left","baseline":"alphabetic","color":"#000000"},"encoding":{"x":{"datum":-20.4,"type":"quantitative","scale":{"domain":[-22,11.9],"nice":false,"zero":false},"axis":null},"y":{"datum":0.545,"type":"quantitative","scale":{"domain":[-1.5,1],"nice":false,"zero":false},"axis":null}}},
 {"data":{"values":[{}]},"mark":{"type":"text","text":"E2 - Sequence 3","font":"Liberation Serif","fontSize":20,"align":"left","baseline":"alphabetic","color":"#000000"},"encoding":{"x":{"datum":-18.55,"type":"quantitative","scale":{"domain":[-22,11.9],"nice":false,"zero":false},"axis":null},"y":{"datum":0.545,"type":"quantitative","scale":{"domain":[-1.5,1],"nice":false,"zero":false},"axis":null}}}
]}
]
}
